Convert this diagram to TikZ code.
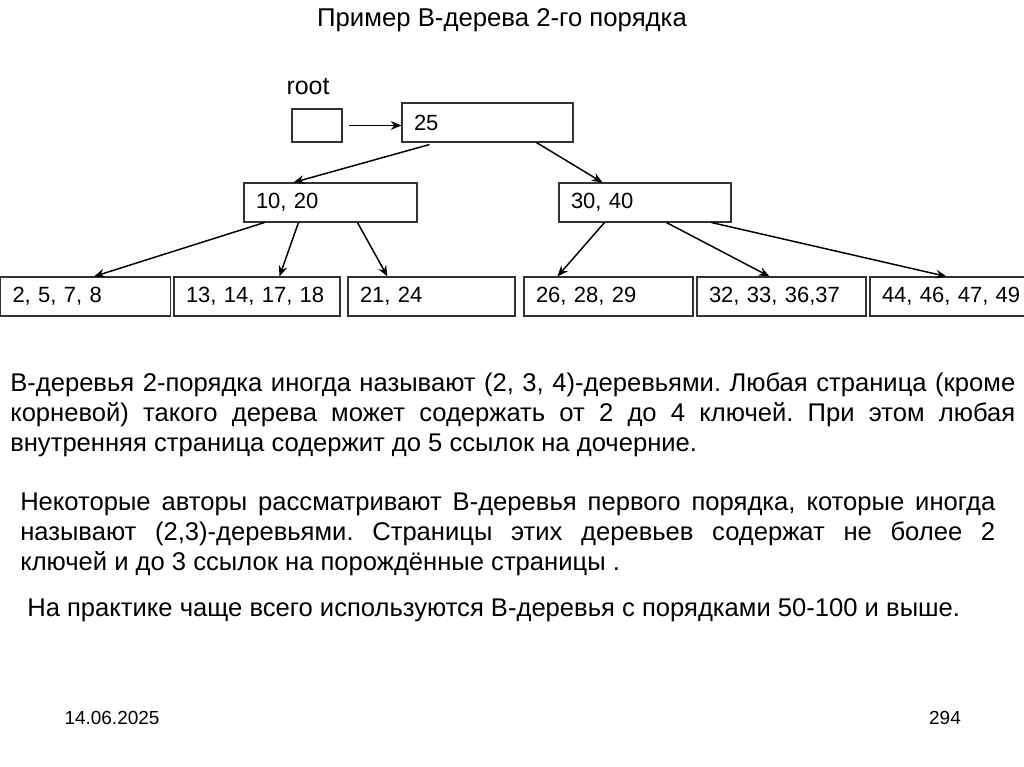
\documentclass[tikz,border=0pt]{standalone}
\usepackage{fontspec}
\setmainfont{Liberation Sans}
\usetikzlibrary{arrows.meta,calc}
\frenchspacing
\tikzset{
  px/.style={x=0.75pt,y=-0.75pt},
  keybox/.style={draw=black!80, line width=0.8pt, rectangle, inner ysep=0pt,
    inner xsep=9pt, minimum height=29.25pt, align=left,
    font=\fontsize{16.5pt}{18pt}\selectfont},
  link/.style={line width=1.1pt, -{Stealth[length=8pt,width=6.5pt]}},
  para/.style={anchor=base west, inner sep=0pt,
    font=\fontsize{19.2pt}{22.5pt}\selectfont},
  heading/.style={font=\fontsize{19.3pt}{22pt}\selectfont},
  foot/.style={font=\fontsize{14.2pt}{16pt}\selectfont},
}
\begin{document}
\begin{tikzpicture}[px]
\useasboundingbox (0,0) rectangle (1024,767);
% title
\node[heading] (title) at (502,20) {Пример B-дерева 2-го порядка};
\node[heading, font=\fontsize{18.7pt}{22pt}\selectfont] (rootlbl) at (308,87) {root};
% boxes
\node[draw=black!80, line width=0.8pt, minimum width=37.5pt, minimum height=24.75pt, inner sep=0pt] (root) at (317,125.5) {};
\node[keybox, text width=110.25pt] (b25) at (487.5,122.5) {25};
\node[keybox, text width=111.75pt] (b1020) at (330.5,202.5) {10, 20};
\node[keybox, text width=111pt] (b3040) at (645,202.5) {30, 40};
\node[keybox, text width=109.5pt] (l1) at (85.5,296.5) {2, 5, 7, 8};
\node[keybox, text width=106.5pt] (l2) at (257,296.5) {13, 14, 17, 18};
\node[keybox, text width=107.25pt] (l3) at (431.5,296.5) {21, 24};
\node[keybox, text width=108.75pt] (l4) at (608.5,296.5) {26, 28, 29};
\node[keybox, text width=108.75pt] (l5) at (781.5,296.5) {32, 33, 36,37};
\node[keybox, text width=111pt] (l6) at (956,296.5) {44, 46, 47, 49};
% connectors
\draw[link] ($(root.east)+(6,0)$) -- (root.east -| b25.west);
\draw[link] ($(b25.south west)+(28,2)$) -- ($(b1020.north west)+(50,0)$);
\draw[link] ($(b25.south west)+(135,0)$) -- ($(b3040.north west)+(44,0)$);
\draw[link] ($(b1020.south west)+(21,0)$) -- ($(l1.north west)+(94,0)$);
\draw[link] ($(b1020.south west)+(55,0)$) -- ($(l2.north west)+(106,0)$);
\draw[link] ($(b1020.south west)+(114,0)$) -- ($(l3.north west)+(40,0)$);
\draw[link] ($(b3040.south west)+(46,0)$) -- ($(l4.north west)+(34,0)$);
\draw[link] ($(b3040.south west)+(108,0)$) -- ($(l5.north west)+(73,0)$);
\draw[link] ($(b3040.south west)+(153,0)$) -- ($(l6.north west)+(77,0)$);
% paragraphs
\node[para] (p1) at (10,391) {\parbox[t]{753.75pt}{\hyphenpenalty=10000\exhyphenpenalty=10000
В-деревья 2-порядка иногда называют (2, 3, 4)-деревьями. Любая страница (кроме\linebreak
корневой) такого дерева может содержать от 2 до 4 ключей. При этом любая\linebreak
внутренняя страница содержит до 5 ссылок на дочерние.}};
\node[para] (p2) at (20,510) {\parbox[t]{731.25pt}{\hyphenpenalty=10000\exhyphenpenalty=10000
Некоторые авторы рассматривают B-деревья первого порядка, которые иногда\linebreak
называют (2,3)-деревьями. Страницы этих деревьев содержат не более 2\linebreak
ключей и до 3 ссылок на порождённые страницы .}};
\node[para] (p3) at (27,616) {На практике чаще всего используются B-деревья с порядками 50-100 и выше.};
% footer
\node[foot] (date) at (112,718) {14.06.2025};
\node[foot] (page) at (945,718) {294};
\end{tikzpicture}
\end{document}
